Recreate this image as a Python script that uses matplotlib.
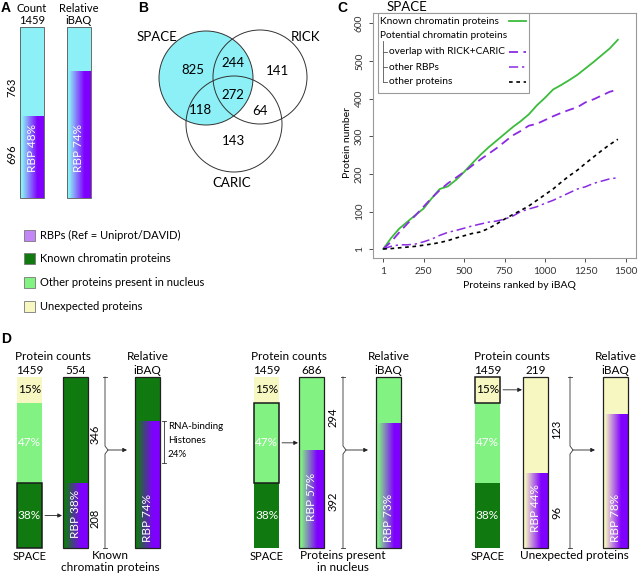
import numpy as np
import matplotlib
matplotlib.use("Agg")
import matplotlib.pyplot as plt
from matplotlib.colors import to_rgb
from matplotlib.patches import Rectangle, Circle

plt.rcParams['font.family'] = ['Lato', 'DejaVu Sans']

# ---------------- data ----------------
# Panel A
a_total = 1459
a_other = 763
a_rbp = 696
a_rbp_pct = 48
a_ibaq_rbp_pct = 74

# Panel B (Venn region counts)
venn_names = ["SPACE", "RICK", "CARIC"]
venn_only_space = 825
venn_space_rick = 244
venn_only_rick = 141
venn_all = 272
venn_space_caric = 118
venn_rick_caric = 64
venn_only_caric = 143

# Panel C
rank = [1, 50, 100, 150, 200, 250, 300, 350, 400, 450, 500, 550, 600, 650, 700,
        750, 800, 850, 900, 950, 1000, 1050, 1100, 1150, 1200, 1250, 1300, 1350, 1400, 1450]
known_chromatin = [1, 30, 55, 73, 91, 108, 135, 160, 167, 184, 205, 228, 250, 270, 288,
                   306, 324, 340, 358, 382, 402, 424, 436, 449, 463, 480, 497, 515, 533, 556]
overlap_rick_caric = [1, 20, 45, 68, 90, 113, 136, 157, 175, 190, 205, 222, 238, 253, 268,
                      285, 302, 314, 328, 333, 343, 353, 362, 370, 377, 390, 398, 408, 418, 424]
other_rbps = [1, 8, 12, 12, 14, 20, 27, 37, 45, 50, 56, 62, 67, 72, 75,
              80, 88, 100, 107, 113, 122, 130, 140, 150, 160, 166, 175, 181, 187, 190]
other_proteins = [1, 2, 4, 6, 8, 11, 14, 18, 23, 30, 36, 42, 46, 55, 67,
                  80, 92, 103, 115, 130, 145, 160, 178, 195, 210, 228, 245, 262, 278, 292]
c_xticks = [1, 250, 500, 750, 1000, 1250, 1500]
c_yticks = [1, 100, 200, 300, 400, 500, 600]

# Panel D
d_space_pct = [15, 47, 38]            # unexpected, other nucleus, known chromatin (top -> bottom)
d_space_total = 1459
d_group_names = ["Known\nchromatin proteins", "Proteins present\nin nucleus", "Unexpected proteins"]
d_group_total = [554, 686, 219]
d_group_other = [346, 294, 123]
d_group_rbp = [208, 392, 96]
d_group_rbp_pct = [38, 57, 44]
d_ibaq_rbp_pct = [74, 73, 78]
d_rna_binding_histones_pct = 24

legend_labels = ["RBPs (Ref = Uniprot/DAVID)", "Known chromatin proteins",
                 "Other proteins present in nucleus", "Unexpected proteins"]

# ---------------- style ----------------
CYAN = "#8cf0f6"
PURPLE = "#7f00ff"
DKGREEN = "#107a10"
LTGREEN = "#82f282"
YELLOW = "#f7f7c2"
RBPLEG = "#c386f7"
CGREEN = "#3cbc3c"
CPURPLE = "#8a2be2"
seg_colors = [YELLOW, LTGREEN, DKGREEN]

fig = plt.figure(figsize=(6.41, 5.77), dpi=100)

# ---------------- Panel C (real axes) ----------------
W, H = 641.0, 577.0
axc = fig.add_axes([373 / W, (H - 258) / H, 263 / W, 245 / H])
axc.plot(rank, known_chromatin, color=CGREEN, lw=1.3)
axc.plot(rank, overlap_rick_caric, color=CPURPLE, lw=1.3, dashes=(5, 3))
axc.plot(rank, other_rbps, color=CPURPLE, lw=1.1, dashes=(6, 2.5, 1.5, 2.5))
axc.plot(rank, other_proteins, color="black", lw=1.2, dashes=(2.2, 2.2))
axc.set_xlim(-62, 1562)
axc.set_ylim(-23, 627)
axc.set_xticks(c_xticks)
axc.set_xticklabels([str(v) for v in c_xticks])
axc.set_yticks(c_yticks)
axc.set_yticklabels([str(v) for v in c_yticks], rotation=90, va='center')
axc.tick_params(labelsize=7.3, colors='#333333', length=3, width=0.6)
for s in axc.spines.values():
    s.set_color('#9a9a9a')
    s.set_linewidth(0.8)

# ---------------- overlay axes in pixel units ----------------
ax = fig.add_axes([0, 0, 1, 1], zorder=5)
ax.patch.set_alpha(0)
ax.axis('off')


def txt(x, y, s, size=8, **kw):
    kw.setdefault('ha', 'center')
    kw.setdefault('va', 'center')
    ax.text(x, y, s, fontsize=size, **kw)


def gradient(x0, y0, w, h, c1, c2, z=2):
    n = 80
    t = np.linspace(0, 1, n)
    t = np.clip((t - 0.08) / 0.65, 0, 1)
    a = np.array(to_rgb(c1))
    b = np.array(to_rgb(c2))
    img = ((1 - t)[:, None] * a + t[:, None] * b)[None, :, :]
    ax.imshow(img, extent=(x0, x0 + w, y0 + h, y0), aspect='auto',
              interpolation='bilinear', zorder=z)


def solid(x0, y0, w, h, color, edge='none', lw=0, z=2):
    ax.bar(x0 + w / 2, h, bottom=y0, width=w, color=color, edgecolor=edge,
           linewidth=lw, zorder=z)


def outline(x0, y0, w, h, lw=0.8, color='#222222'):
    ax.add_patch(Rectangle((x0, y0), w, h, fill=False, edgecolor=color, lw=lw, zorder=4))


def letter(x, y, s):
    ax.text(x, y, s, fontsize=10, fontweight='bold', family='Liberation Sans',
            ha='center', va='center')


# ---------------- Panel A ----------------
letter(6, 8, "A")
a_top, a_h, a_w = 27, 171, 24
a_x = [20, 67]
# count bar
rbp_h = a_h * a_rbp / a_total
solid(a_x[0], a_top, a_w, a_h - rbp_h, CYAN)
gradient(a_x[0], a_top + a_h - rbp_h, a_w, rbp_h, CYAN, PURPLE)
outline(a_x[0], a_top, a_w, a_h, lw=0.6, color='#555555')
# iBAQ bar
rbp_h2 = a_h * a_ibaq_rbp_pct / 100
solid(a_x[1], a_top, a_w, a_h - rbp_h2, CYAN)
gradient(a_x[1], a_top + a_h - rbp_h2, a_w, rbp_h2, CYAN, PURPLE)
outline(a_x[1], a_top, a_w, a_h, lw=0.6, color='#555555')
txt(a_x[0] + a_w / 2, 8, "Count", 8)
txt(a_x[0] + a_w / 2, 20, str(a_total), 8)
txt(a_x[1] + a_w / 2, 8, "Relative", 8)
txt(a_x[1] + a_w / 2, 20, "iBAQ", 8)
txt(12, 87, str(a_other), 8, rotation=90)
txt(12, 154, str(a_rbp), 8, rotation=90)
txt(a_x[0] + a_w / 2, 148, f"RBP {a_rbp_pct}%", 8.5, rotation=90, color='white')
txt(a_x[1] + a_w / 2, 148, f"RBP {a_ibaq_rbp_pct}%", 8.5, rotation=90, color='white')

# ---------------- Panel B (Venn) ----------------
letter(143, 8, "B")
ax.add_patch(Circle((206, 78), 47, facecolor=CYAN, edgecolor='none', zorder=2))
ax.add_patch(Circle((260, 77), 47, facecolor='none', edgecolor='#333333', lw=0.7, zorder=3))
ax.add_patch(Circle((234, 124), 48, facecolor='none', edgecolor='#333333', lw=0.7, zorder=3))
ax.add_patch(Circle((206, 78), 47, facecolor='none', edgecolor='#333333', lw=0.7, zorder=3))
txt(157, 37, venn_names[0], 9.5)
txt(306, 37, venn_names[1], 9.5)
txt(232, 183, venn_names[2], 9.5)
txt(193, 70, str(venn_only_space), 9.5)
txt(233, 63, str(venn_space_rick), 9.5)
txt(277, 71, str(venn_only_rick), 9.5)
txt(233, 95, str(venn_all), 9.5)
txt(200, 110, str(venn_space_caric), 9.5)
txt(260, 111, str(venn_rick_caric), 9.5)
txt(233, 141, str(venn_only_caric), 9.5)

# ---------------- Panel C annotations ----------------
letter(342, 8, "C")
txt(387, 7, "SPACE", 9.5, ha='left')
txt(347, 142, "Protein number", 7.5, rotation=90)
txt(519, 286, "Proteins ranked by iBAQ", 7.5)
ax.add_patch(Rectangle((378, 13), 151, 80, fill=True, facecolor='white',
                       edgecolor='#9a9a9a', lw=0.8, zorder=3))
leg_y = [21, 52, 67, 82]
leg_txt = ["Known chromatin proteins", "overlap with RICK+CARIC", "other RBPs", "other proteins"]
leg_x = [380, 389, 389, 389]
for yy, s, xx in zip(leg_y, leg_txt, leg_x):
    txt(xx, yy, s, 7.3, ha='left', zorder=6)
txt(380, 35, "Potential chromatin proteins", 7.3, ha='left', zorder=6)
ax.plot([383, 383], [41, 82], color='#555555', lw=0.6, zorder=6)
for yy in leg_y[1:]:
    ax.plot([383, 387], [yy, yy], color='#555555', lw=0.6, zorder=6)
ax.plot([509, 526], [21, 21], color=CGREEN, lw=1.3, zorder=6)
ax.plot([509, 526], [52, 52], color=CPURPLE, lw=1.3, dashes=(5, 3), zorder=6)
ax.plot([509, 526], [67, 67], color=CPURPLE, lw=1.1, dashes=(6, 2.5, 1.5, 2.5), zorder=6)
ax.plot([509, 526], [82, 82], color='black', lw=1.2, dashes=(2.2, 2.2), zorder=6)

# ---------------- Legend (bottom left) ----------------
leg_cols = [RBPLEG, DKGREEN, LTGREEN, YELLOW]
for i, (lab, col) in enumerate(zip(legend_labels, leg_cols)):
    yy = 235 + i * 23.7
    ax.add_patch(Rectangle((24, yy - 5.5), 11, 11, facecolor=col, edgecolor='#777777',
                           lw=0.6, zorder=3))
    txt(40, yy, lab, 8, ha='left')

# ---------------- Panel D ----------------
letter(6, 339, "D")
d_top, d_h, d_w = 377, 171, 25
space_x = [17, 254, 475]
bar2_x = [63, 299, 523]
bar3_x = [135, 376, 603]
num_x = [95, 333, 557]
brk_x = [105, 343, 570]
brace_y = 450
name_x = [110, 343, 574]
grp_base = [DKGREEN, LTGREEN, YELLOW]
hl_index = [2, 1, 0]

for g in range(3):
    sx, bx, cx = space_x[g], bar2_x[g], bar3_x[g]
    # SPACE stacked bar
    y = d_top
    seg_pos = []
    for k, pct in enumerate(d_space_pct):
        hh = d_h * pct / 100
        solid(sx, y, d_w, hh, seg_colors[k])
        seg_pos.append((y, hh))
        y += hh
    hy, hh = seg_pos[hl_index[g]]
    outline(sx, hy, d_w, hh, lw=1.1, color='#1a1a1a')
    lab_cols = ['black', 'white', 'white']
    for k, pct in enumerate(d_space_pct):
        txt(sx + d_w / 2, seg_pos[k][0] + seg_pos[k][1] / 2, f"{pct}%", 8.5, color=lab_cols[k])
    txt(sx + d_w / 2, 557, "SPACE", 8)
    txt(sx + d_w / 2, 370, str(d_space_total), 8.5)
    txt((sx + bx + d_w) / 2, 357, "Protein counts", 8.5)

    # selected group count bar
    base = grp_base[g]
    rh = d_h * d_group_rbp[g] / d_group_total[g]
    solid(bx, d_top, d_w, d_h - rh, base)
    gradient(bx, d_top + d_h - rh, d_w, rh, base, PURPLE)
    outline(bx, d_top, d_w, d_h, lw=0.9)
    txt(bx + d_w / 2, 370, str(d_group_total[g]), 8.5)
    txt(bx + d_w / 2, d_top + d_h - rh / 2 - 2, f"RBP {d_group_rbp_pct[g]}%", 8.5,
        rotation=90, color='white')
    txt(num_x[g], d_top + (d_h - rh) / 2 + 4, str(d_group_other[g]), 8, rotation=90)
    txt(num_x[g], d_top + d_h - rh / 2 + 2, str(d_group_rbp[g]), 8, rotation=90)

    # arrow SPACE -> group bar
    ay = hy + hh / 2
    ax.annotate("", xy=(bx - 1, ay), xytext=(sx + d_w + 3, ay),
                arrowprops=dict(arrowstyle='-|>', lw=0.6, color='#222222',
                                mutation_scale=6, shrinkA=0, shrinkB=0), zorder=5)

    # bracket + arrow to iBAQ bar
    xb = brk_x[g]
    ax.plot([xb, xb, xb + 3, xb, xb], [d_top, brace_y - 4, brace_y, brace_y + 4, d_top + d_h],
            color='#333333', lw=0.6, zorder=4)
    ax.plot([xb - 2, xb + 2], [d_top, d_top], color='#333333', lw=0.6, zorder=4)
    ax.plot([xb - 2, xb + 2], [d_top + d_h, d_top + d_h], color='#333333', lw=0.6, zorder=4)
    ax.annotate("", xy=(cx - 8, brace_y), xytext=(xb + 3, brace_y),
                arrowprops=dict(arrowstyle='-|>', lw=0.6, color='#222222',
                                mutation_scale=6, shrinkA=0, shrinkB=0), zorder=5)

    # relative iBAQ bar
    ih = d_h * d_ibaq_rbp_pct[g] / 100
    solid(cx, d_top, d_w, d_h - ih, base)
    gradient(cx, d_top + d_h - ih, d_w, ih, base, PURPLE)
    outline(cx, d_top, d_w, d_h, lw=0.9)
    txt(cx + d_w / 2, 357, "Relative", 8.5)
    txt(cx + d_w / 2, 370, "iBAQ", 8.5)
    txt(cx + d_w / 2, 518, f"RBP {d_ibaq_rbp_pct[g]}%", 8.5, rotation=90, color='white')

    txt(name_x[g], 550, d_group_names[g], 8.5, va='top', linespacing=1.15)

    if g == 0:
        y0 = d_top + d_h - ih
        y1 = y0 + d_h * d_rna_binding_histones_pct / 100
        xh = cx + d_w + 4
        ax.plot([xh, xh], [y0, y1], color='#333333', lw=0.6, zorder=4)
        ax.plot([xh - 2, xh + 2], [y0, y0], color='#333333', lw=0.6, zorder=4)
        ax.plot([xh - 2, xh + 2], [y1, y1], color='#333333', lw=0.6, zorder=4)
        txt(xh + 4, y0 + 5, "RNA-binding", 7, ha='left')
        txt(xh + 4, y0 + 19, "Histones", 7, ha='left')
        txt(xh + 4, y0 + 33, f"{d_rna_binding_histones_pct}%", 7, ha='left')

ax.set_xlim(0, W)
ax.set_ylim(H, 0)

fig.savefig("out.png", dpi=100)
